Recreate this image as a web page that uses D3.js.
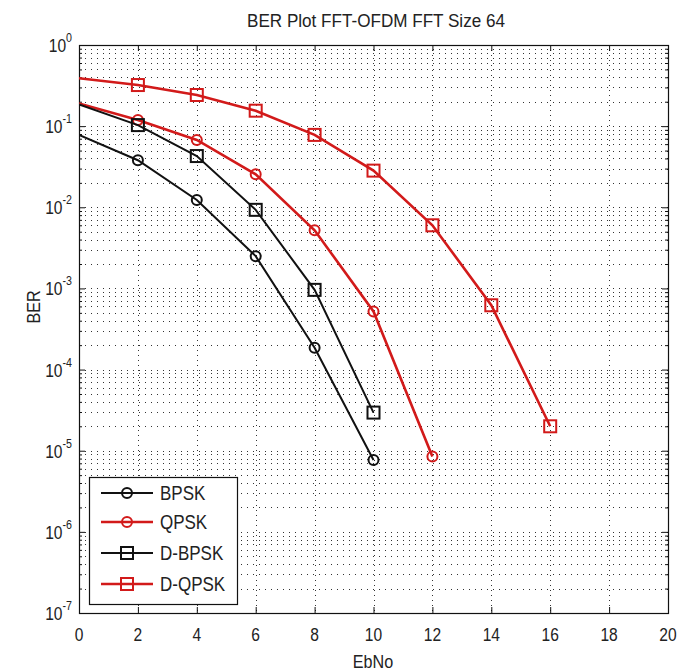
<!DOCTYPE html>
<html>
<head>
<meta charset="utf-8">
<script src="https://cdn.jsdelivr.net/npm/d3@7"></script>
<style>
  body { margin:0; background:#fff; }
  text { font-family:"Liberation Sans",Arial,sans-serif; fill:#222; }
</style>
</head>
<body>
<div class="chart"></div>
<script>
// Data
const ebno = [0, 2, 4, 6, 8, 10, 12, 14, 16];
const berBPSK  = [0.078, 0.038, 0.0123, 0.0025, 1.86e-4, 7.7e-6];
const berQPSK  = [0.19, 0.119, 0.0675, 0.0255, 5.2e-3, 5.2e-4, 8.5e-6];
const berDBPSK = [0.185, 0.103, 0.0428, 9.3e-3, 9.6e-4, 2.95e-5];
const berDQPSK = [0.39, 0.321, 0.242, 0.155, 0.078, 0.0283, 6.0e-3, 6.2e-4, 2.0e-5];

const seriesNames = ['BPSK', 'QPSK', 'D-BPSK', 'D-QPSK'];
const seriesValues = [berBPSK, berQPSK, berDBPSK, berDQPSK];
const seriesColor = ['#111', '#d21a1a', '#111', '#d21a1a'];
const seriesMarker = ['circle', 'circle', 'square', 'square'];

const xTicks = [0, 2, 4, 6, 8, 10, 12, 14, 16, 18, 20];
const yExponents = [0, -1, -2, -3, -4, -5, -6, -7];

const svg_width = 689;
const svg_height = 672;
const margin = {top:45, right:21, bottom:59, left:79};
const width = svg_width - margin.left - margin.right;
const height = svg_height - margin.top - margin.bottom;

const svg = d3.select('.chart').append('svg')
  .attr('width', svg_width).attr('height', svg_height);

const g = svg.append('g').attr('transform', `translate(${margin.left},${margin.top})`);

const xScale = d3.scaleLinear([0, 20], [0, width]);
const yScale = d3.scaleLog([1e-7, 1], [height, 0]);

// the reference font is tall and narrow, squeeze it a bit
function addText(parent, x, y, str, size, anchor, sx) {
  return parent.append('text')
    .attr('transform', `translate(${x},${y}) scale(${sx},1)`)
    .attr('text-anchor', anchor).style('font-size', size + 'px')
    .text(str);
}

// minor log ticks
const minorY = [];
for (let e = -7; e < 0; e++) {
  for (let m = 2; m <= 9; m++) minorY.push(m * Math.pow(10, e));
}
const majorY = yExponents.map(e => Math.pow(10, e));

// grid
const grid = g.append('g').attr('class', 'grid');
grid.selectAll('.hgrid').data(majorY.concat(minorY)).join('line')
  .attr('x1', 0).attr('x2', width)
  .attr('y1', d => Math.round(yScale(d)) + 0.5).attr('y2', d => Math.round(yScale(d)) + 0.5)
  .attr('stroke', '#000').attr('stroke-opacity', 0.8)
  .attr('stroke-width', 1).attr('stroke-dasharray', '1,5');
grid.selectAll('.vgrid').data(xTicks.slice(1, -1)).join('line')
  .attr('y1', 0).attr('y2', height)
  .attr('x1', d => Math.round(xScale(d)) + 0.5).attr('x2', d => Math.round(xScale(d)) + 0.5)
  .attr('stroke', '#000').attr('stroke-opacity', 0.8)
  .attr('stroke-width', 1).attr('stroke-dasharray', '1,4');

// axes: ticks pointing inward on all four sides
const xAxisBottom = d3.axisBottom(xScale).tickValues(xTicks).tickSizeInner(-6).tickSizeOuter(0).tickFormat('');
const xAxisTop = d3.axisTop(xScale).tickValues(xTicks).tickSizeInner(-6).tickSizeOuter(0).tickFormat('');
g.append('g').attr('transform', `translate(0,${height})`).call(xAxisBottom);
g.append('g').call(xAxisTop);

const yAxisLeft = d3.axisLeft(yScale).tickValues(majorY).tickSizeInner(-6).tickSizeOuter(0).tickFormat('');
const yAxisRight = d3.axisRight(yScale).tickValues(majorY).tickSizeInner(-6).tickSizeOuter(0).tickFormat('');
const yMinorLeft = d3.axisLeft(yScale).tickValues(minorY).tickSizeInner(-3).tickSizeOuter(0).tickFormat('');
const yMinorRight = d3.axisRight(yScale).tickValues(minorY).tickSizeInner(-3).tickSizeOuter(0).tickFormat('');
g.append('g').call(yAxisLeft);
g.append('g').call(yMinorLeft);
g.append('g').attr('transform', `translate(${width},0)`).call(yAxisRight);
g.append('g').attr('transform', `translate(${width},0)`).call(yMinorRight);
g.selectAll('.domain').remove();
g.selectAll('.tick line').attr('stroke', '#111');

// box
g.append('rect').attr('x', 0.5).attr('y', 0.5).attr('width', width).attr('height', height)
  .attr('fill', 'none').attr('stroke', '#111').attr('stroke-width', 1.2);

// tick labels
xTicks.forEach(d => addText(g, xScale(d), height + 28, d, 19, 'middle', 0.82));

yExponents.forEach(d => {
  const t = addText(g, -7, yScale(Math.pow(10, d)) + 7, '', 19, 'end', 0.82);
  t.append('tspan').text('10');
  t.append('tspan').attr('dy', -10).style('font-size', '13px').text(d);
});

// titles
addText(svg, 376, 27, 'BER Plot FFT-OFDM FFT Size 64', 19, 'middle', 0.9);
addText(svg, 373, 668, 'EbNo', 19, 'middle', 0.85);
svg.append('text').attr('transform', 'translate(40,307) rotate(-90) scale(0.85,1)')
  .attr('text-anchor', 'middle').style('font-size', '19px')
  .text('BER');

// series
svg.append('clipPath').attr('id', 'plotclip').append('rect')
  .attr('width', width).attr('height', height);

const line = d3.line().x((d, i) => xScale(ebno[i])).y(d => yScale(d));
const plot = g.append('g').attr('clip-path', 'url(#plotclip)');

function drawMarker(sel, type, color) {
  if (type === 'circle') {
    sel.append('circle').attr('r', 5)
      .attr('fill', 'none').attr('stroke', color).attr('stroke-width', 2);
  } else {
    sel.append('rect').attr('x', -6).attr('y', -6).attr('width', 12).attr('height', 12)
      .attr('fill', 'none').attr('stroke', color).attr('stroke-width', 2);
  }
}

seriesValues.forEach((vals, k) => {
  const col = seriesColor[k];
  const red = col !== '#111';
  plot.append('path').datum(vals).attr('d', line)
    .attr('fill', 'none').attr('stroke', col).attr('stroke-width', red ? 2.6 : 2);
  vals.forEach((v, i) => {
    if (ebno[i] === 0) return;
    const m = plot.append('g').attr('transform', `translate(${xScale(ebno[i])},${yScale(v)})`);
    drawMarker(m, seriesMarker[k], col);
  });
});

// legend
const legend = svg.append('g').attr('class', 'legend').attr('transform', 'translate(89,477)');
legend.append('rect').attr('x', 0.5).attr('y', 0.5).attr('width', 148).attr('height', 127)
  .attr('fill', '#fff').attr('stroke', '#111').attr('stroke-width', 1.2);
const entryY = [16, 45, 76, 107];
seriesNames.forEach((name, k) => {
  const e = legend.append('g').attr('transform', `translate(0,${entryY[k]})`);
  e.append('line').attr('x1', 12).attr('x2', 64).attr('y1', 0).attr('y2', 0)
    .attr('stroke', seriesColor[k]).attr('stroke-width', seriesColor[k] === '#111' ? 2 : 2.6);
  drawMarker(e.append('g').attr('transform', 'translate(38,0)'), seriesMarker[k], seriesColor[k]);
  addText(e, 71, 7, name, 20, 'start', 0.85);
});
</script>
</body>
</html>
